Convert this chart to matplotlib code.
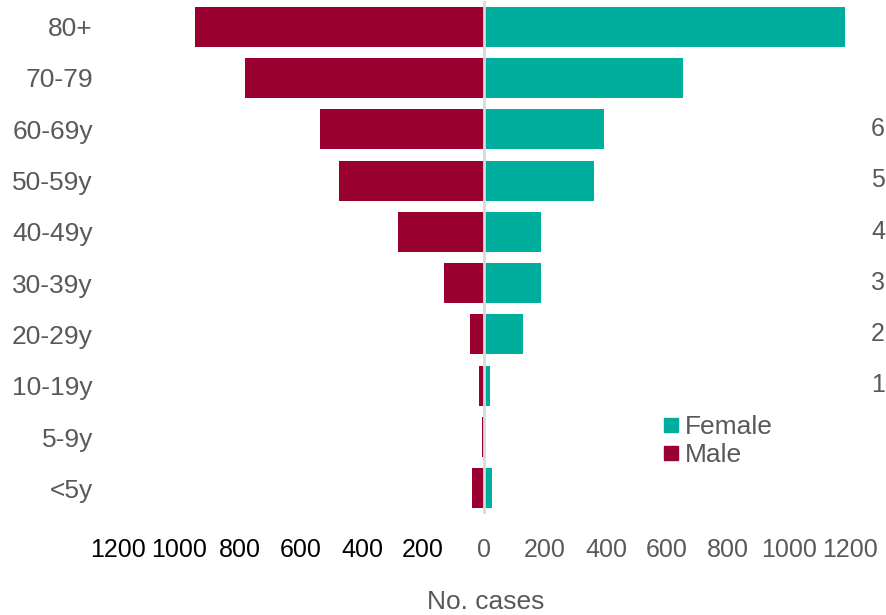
import matplotlib.pyplot as plt
from matplotlib.lines import Line2D

age_groups = ["80+", "70-79", "60-69y", "50-59y", "40-49y",
              "30-39y", "20-29y", "10-19y", "5-9y", "<5y"]
male = [948, 784, 538, 475, 282, 131, 46, 16, 8, 39]
female = [1183, 654, 392, 361, 187, 187, 129, 20, 0, 26]
ticks = [-1200, -1000, -800, -600, -400, -200, 0, 200, 400, 600, 800, 1000, 1200]
tick_labels = [str(abs(t)) for t in ticks]
clipped_labels = ["6", "5", "4", "3", "2", "1"]

MALE_COLOR = "#990030"
FEMALE_COLOR = "#00AE9D"
GREY = "#595959"


def main():
    plt.rcParams["font.family"] = ["Liberation Sans", "DejaVu Sans"]
    W, H = 887, 615
    fig = plt.figure(figsize=(W / 100, H / 100), dpi=100)
    ax = fig.add_axes([118 / W, 101 / H, 732 / W, 513 / H])

    y = list(range(len(age_groups)))
    ax.barh(y, [-m for m in male], height=0.78, color=MALE_COLOR)
    ax.barh(y, female, height=0.78, color=FEMALE_COLOR)
    ax.axvline(0, color="#d9d9d9", lw=2, zorder=3)

    ax.set_xlim(-1200, 1200)
    ax.set_ylim(len(age_groups) - 0.5, -0.5)
    ax.set_yticks(y)
    ax.set_yticklabels(age_groups, fontsize=19, color=GREY)
    ax.set_xticks(ticks)
    ax.set_xticklabels(tick_labels, fontsize=18,
                       family=["Liberation Sans Narrow", "Liberation Sans"])
    for lab, t in zip(ax.get_xticklabels(), ticks):
        lab.set_color("black" if t < 0 else GREY)
    ax.tick_params(axis="y", length=0, pad=18)
    ax.tick_params(axis="x", length=0, pad=17)
    for s in ax.spines.values():
        s.set_visible(False)

    # labels of a second axis, cut off at the right edge
    for i, lab in enumerate(clipped_labels):
        fig.text(871 / W, 1 - (129 + i * 51.3) / H, lab, fontsize=18,
                 color=GREY, ha="left", va="center")

    handles = [
        Line2D([], [], marker="s", ls="", markersize=10,
               color=FEMALE_COLOR, label="Female"),
        Line2D([], [], marker="s", ls="", markersize=10,
               color=MALE_COLOR, label="Male"),
    ]
    leg = ax.legend(handles=handles, loc="upper left",
                    bbox_to_anchor=(664 / W, 1 - 415 / H),
                    bbox_transform=fig.transFigure, frameon=False,
                    fontsize=19, handlelength=0.5, handletextpad=0.3,
                    labelspacing=0.15, borderpad=0, borderaxespad=0)
    for t in leg.get_texts():
        t.set_color(GREY)

    fig.text(486 / W, 1 - 602 / H, "No. cases", fontsize=19, color=GREY,
             family=["Liberation Sans Narrow", "Liberation Sans"],
             ha="center", va="center")

    fig.savefig("out.png", dpi=100)


if __name__ == "__main__":
    main()
